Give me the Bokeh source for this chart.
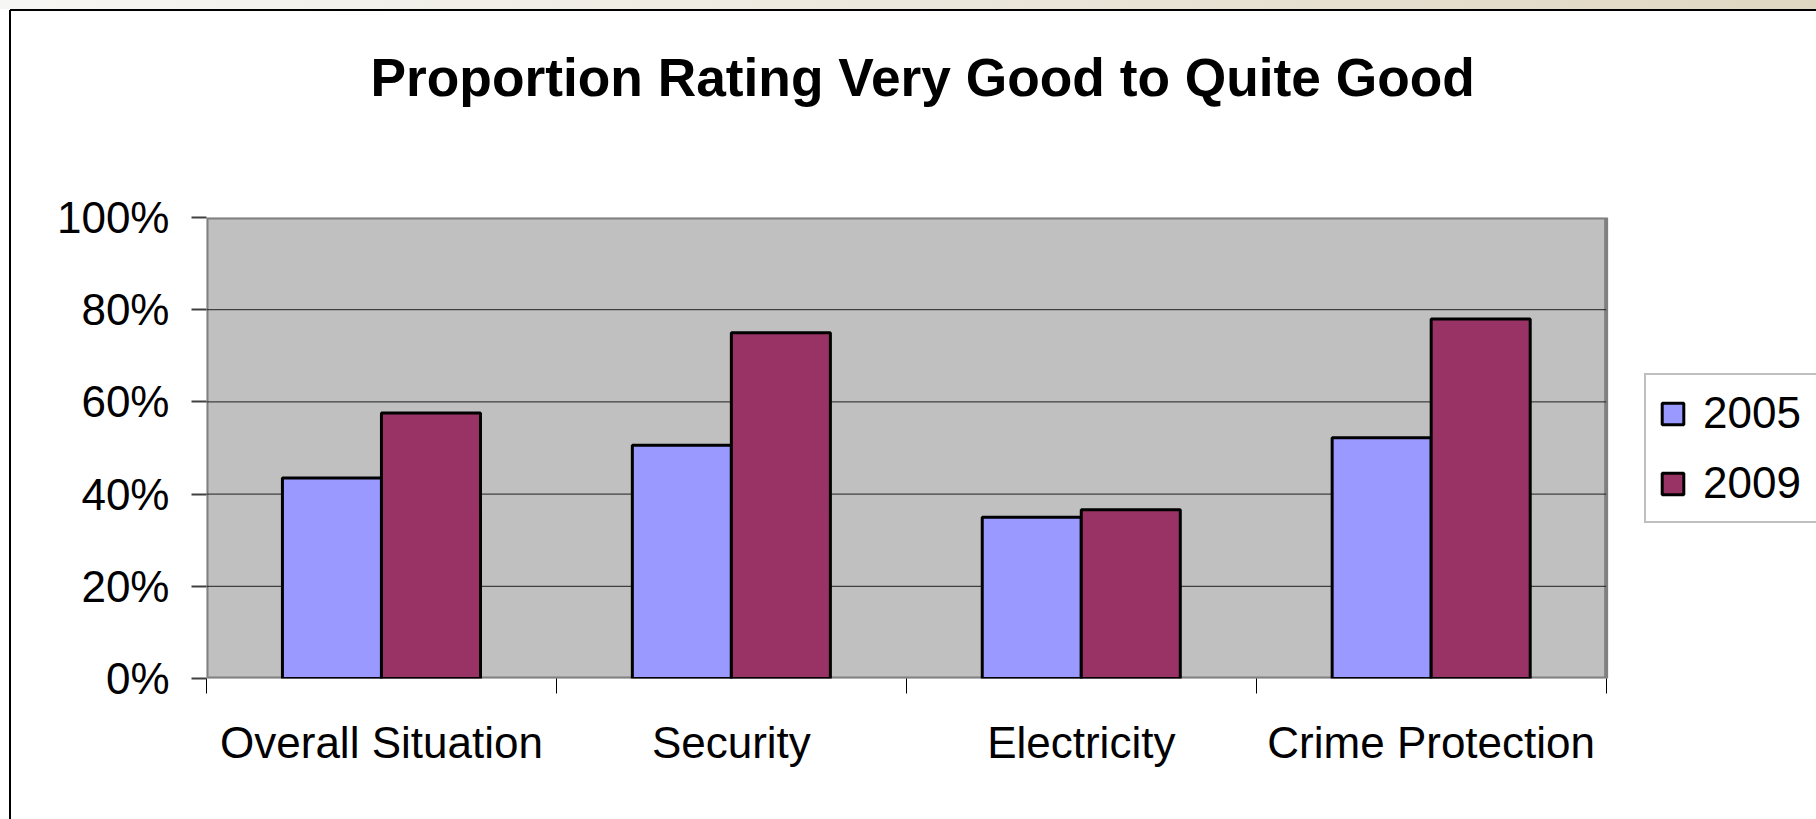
from bokeh.plotting import figure
from bokeh.models import (ColumnDataSource, Range1d, FixedTicker, Legend, LegendItem,
                          PrintfTickFormatter, Title, InlineStyleSheet)
from bokeh.embed import file_html
from bokeh.resources import INLINE

# ---- data ----
categories = ["Overall Situation", "Security", "Electricity", "Crime Protection"]
series_names = ["2005", "2009"]
values_2005 = [43.5, 50.6, 35.0, 52.2]
values_2009 = [57.6, 75.0, 36.6, 78.0]
y_ticks = [0, 20, 40, 60, 80, 100]
title_text = "Proportion Rating Very Good to Quite Good"

FONT = "Liberation Sans"
BAR_W = 0.283
N = len(categories)
Y_MAX = y_ticks[-1]

centers = [i + 0.5 for i in range(N)]
src = ColumnDataSource(dict(
    x05=[c - BAR_W / 2 for c in centers],
    x09=[c + BAR_W / 2 for c in centers],
    v05=values_2005,
    v09=values_2009,
))

# the frame runs to the right edge so that the legend (inside it) is not clipped;
# the grey plot area covers the categories only
p = figure(width=1816, height=819, output_backend="svg", toolbar_location=None,
           title=None,
           x_range=Range1d(0, N * 1.1503), y_range=Range1d(0, Y_MAX),
           min_border_left=206, min_border_right=0, min_border_top=0,
           min_border_bottom=141)

p.background_fill_color = "white"
p.border_fill_color = "white"
p.border_fill_alpha = 0
p.outline_line_color = None
# slide frame: light strip on top, thin black lines at top and left
p.stylesheets = [InlineStyleSheet(css=(
    ":host { background: "
    "linear-gradient(to bottom, transparent 0px, transparent 9px, #000 9px, #000 11px, transparent 11px) 10px 0 / 100% 100% no-repeat, "
    "linear-gradient(to right, transparent 0px, transparent 9px, #000 9px, #000 11px, transparent 11px) 0 10px / 100% 100% no-repeat, "
    "linear-gradient(to right, #F6F6F4 0%, #EFEBE2 40%, #E0D7C2 100%) 0 0 / 100% 9px no-repeat, "
    "#FFFFFF; }"
))]

# titles: an invisible spacer next to the frame, then the real title above it
spacer = Title(text=".", text_font=FONT, text_font_size="20px", text_color="white",
               standoff=50)
p.add_layout(spacer, "above")
main_title = Title(text=title_text, text_font=FONT, text_font_style="bold",
                   text_font_size="53.3px", text_color="black", align="left",
                   offset=164, standoff=90)
p.add_layout(main_title, "above")

# grey plot area
p.quad(left=[0], right=[N], bottom=[0], top=[Y_MAX], fill_color="#C0C0C0",
       line_color="#808080", line_width=4)
# horizontal gridlines inside the plot area
inner = y_ticks[1:-1]
p.segment(x0=[0] * len(inner), x1=[N] * len(inner), y0=inner, y1=inner,
          line_color="#202020", line_width=1)

r05 = p.vbar(x="x05", top="v05", width=BAR_W, bottom=0, source=src,
             fill_color="#9999FF", line_color="black", line_width=3)
r09 = p.vbar(x="x09", top="v09", width=BAR_W, bottom=0, source=src,
             fill_color="#993366", line_color="black", line_width=3)

# y axis
yax = p.yaxis[0]
yax.ticker = FixedTicker(ticks=y_ticks, minor_ticks=[])
yax.formatter = PrintfTickFormatter(format="%d%%")
yax.axis_line_color = None
yax.major_tick_line_color = "#404040"
yax.major_tick_line_width = 2
yax.major_tick_out = 15
yax.major_tick_in = 0
yax.major_label_text_font = FONT
yax.major_label_text_font_size = "44px"
yax.major_label_text_color = "black"
yax.major_label_standoff = 22

# x axis: labels at centres, ticks at boundaries
xax = p.xaxis[0]
xax.ticker = FixedTicker(ticks=centers, minor_ticks=list(range(N + 1)))
xax.major_label_overrides = {c: name for c, name in zip(centers, categories)}
xax.axis_line_color = None
xax.major_tick_line_color = None
xax.minor_tick_line_color = "black"
xax.minor_tick_line_width = 1
xax.minor_tick_out = 15
xax.minor_tick_in = 0
xax.major_label_text_font = FONT
xax.major_label_text_font_size = "44px"
xax.major_label_text_color = "black"
xax.major_label_standoff = 24

p.xgrid.grid_line_color = None
p.ygrid.grid_line_color = None

legend = Legend(items=[LegendItem(label=series_names[0], renderers=[r05]),
                       LegendItem(label=series_names[1], renderers=[r09])],
                location=(1438, 155), margin=0, padding=13, spacing=20,
                glyph_width=27, glyph_height=27, label_standoff=17,
                label_width=120,
                label_text_font=FONT, label_text_font_size="44px",
                label_text_color="black",
                border_line_color="#808080", border_line_width=2,
                background_fill_color="white", background_fill_alpha=1)
p.add_layout(legend, "center")

open("out.html", "w").write(file_html(p, INLINE))
